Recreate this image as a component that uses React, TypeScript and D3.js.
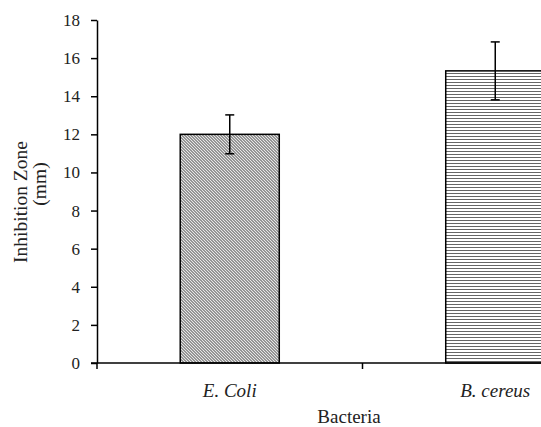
import React, { useEffect, useRef } from 'react';
import * as d3 from 'd3';

const categories = ['E. Coli', 'B. cereus'];
const means = [12, 15.33];
const errors = [1.02, 1.52];
const yTicks = [0, 2, 4, 6, 8, 10, 12, 14, 16, 18];
const patterns = ['diag', 'horiz'];

const FONT = 'Liberation Serif, Times New Roman, serif';

function App() {
  const svgRef = useRef<SVGSVGElement>(null);

  useEffect(() => {
    const width = 541;
    const height = 427;
    const left = 97, right = 628, top = 20, bottom = 363;

    const svg = d3.select(svgRef.current)
      .attr('width', width)
      .attr('height', height)
      .style('font-family', FONT);

    const defs = svg.append('defs');
    const dp = Math.SQRT2 * 1.5;
    defs.append('pattern')
      .attr('id', 'diag')
      .attr('patternUnits', 'userSpaceOnUse')
      .attr('width', dp).attr('height', dp)
      .attr('patternTransform', 'rotate(45)')
      .call(p => p.append('rect').attr('width', dp).attr('height', dp).attr('fill', '#fff'))
      .append('line')
      .attr('x1', 0).attr('x2', dp).attr('y1', dp / 2).attr('y2', dp / 2)
      .attr('stroke', '#444').attr('stroke-width', 0.9);

    defs.append('pattern')
      .attr('id', 'horiz')
      .attr('patternUnits', 'userSpaceOnUse')
      .attr('width', 3).attr('height', 3)
      .call(p => p.append('rect').attr('width', 3).attr('height', 3).attr('fill', '#fff'))
      .append('line')
      .attr('x1', 0).attr('x2', 3).attr('y1', 1.5).attr('y2', 1.5)
      .attr('stroke', '#666').attr('stroke-width', 1);

    const y = d3.scaleLinear().domain([0, 18]).range([bottom, top]);
    const xCat = d3.scaleBand().domain(categories).range([left, right]).padding(0);
    const xBar = d3.scaleBand().domain(categories).range([left, right])
      .paddingInner(0.627).paddingOuter(0.3135);

    // bars
    svg.append('g')
      .selectAll('rect')
      .data(categories)
      .join('rect')
      .attr('x', d => xBar(d)!)
      .attr('y', (d, i) => y(means[i]))
      .attr('width', xBar.bandwidth())
      .attr('height', (d, i) => y(0) - y(means[i]))
      .attr('fill', (d, i) => `url(#${patterns[i]})`)
      .attr('stroke', '#000')
      .attr('stroke-width', 1.5);

    // error bars
    const eb = svg.append('g').attr('stroke', '#000').attr('stroke-width', 1.5);
    categories.forEach((c, i) => {
      const cx = xBar(c)! + xBar.bandwidth() / 2;
      eb.append('line').attr('x1', cx).attr('x2', cx)
        .attr('y1', y(means[i] + errors[i])).attr('y2', y(means[i] - errors[i]));
      [means[i] + errors[i], means[i] - errors[i]].forEach(v => {
        eb.append('line').attr('x1', cx - 4.5).attr('x2', cx + 4.5)
          .attr('y1', y(v)).attr('y2', y(v));
      });
    });

    // y axis
    const yAxis = svg.append('g')
      .attr('transform', `translate(${left},0)`)
      .call(d3.axisLeft(y).tickValues(yTicks).tickSize(6).tickSizeOuter(0).tickPadding(11));
    yAxis.select('.domain').attr('stroke', '#000').attr('stroke-width', 1.5);
    yAxis.selectAll('.tick line').attr('stroke', '#000').attr('stroke-width', 1.5);
    yAxis.selectAll('.tick text')
      .style('font-family', FONT)
      .style('font-size', '17px')
      .attr('fill', '#222');

    // x axis
    svg.append('line')
      .attr('x1', left - 6).attr('x2', right)
      .attr('y1', y(0)).attr('y2', y(0))
      .attr('stroke', '#000').attr('stroke-width', 1.5);
    const edges = [...categories.map(c => xCat(c)!), right];
    svg.append('g')
      .selectAll('line')
      .data(edges)
      .join('line')
      .attr('x1', d => d).attr('x2', d => d)
      .attr('y1', y(0)).attr('y2', y(0) + 6)
      .attr('stroke', '#000').attr('stroke-width', 1.5);

    svg.append('g')
      .selectAll('text')
      .data(categories)
      .join('text')
      .attr('x', d => xCat(d)! + xCat.bandwidth() / 2)
      .attr('y', 397)
      .attr('text-anchor', 'middle')
      .attr('font-style', 'italic')
      .attr('font-size', 19)
      .attr('fill', '#222')
      .text(d => d);

    svg.append('text')
      .attr('x', 349).attr('y', 423)
      .attr('text-anchor', 'middle')
      .attr('font-size', 19)
      .attr('fill', '#222')
      .text('Bacteria');

    svg.append('text')
      .attr('transform', 'translate(27,202) rotate(-90)')
      .attr('text-anchor', 'middle')
      .attr('font-size', 19.5)
      .attr('fill', '#222')
      .text('Inhibition Zone');

    svg.append('text')
      .attr('transform', 'translate(46,184) rotate(-90)')
      .attr('text-anchor', 'middle')
      .attr('font-size', 19.5)
      .attr('fill', '#222')
      .text('(mm)');

    return () => {
      svg.selectAll('*').remove();
    };
  }, []);

  return (
    <div style={{ position: 'absolute', left: 0, top: 0 }}>
      <svg ref={svgRef} style={{ display: 'block' }}></svg>
    </div>
  );
}

export default App;
